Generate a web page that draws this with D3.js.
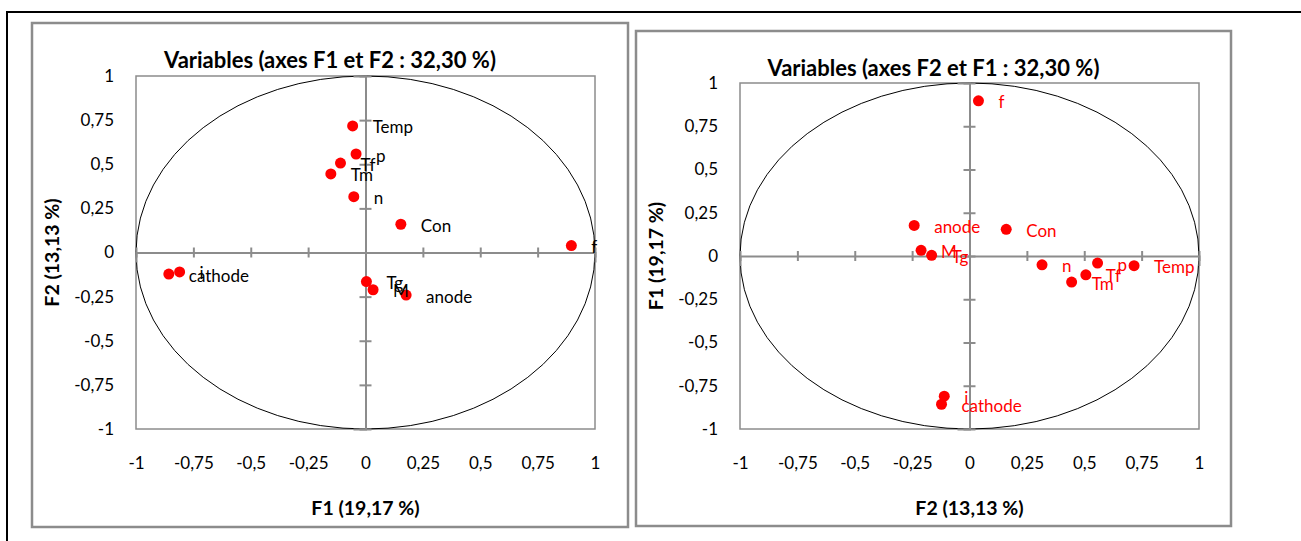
<!DOCTYPE html>
<html>
<head>
<meta charset="utf-8">
<script src="https://cdn.jsdelivr.net/npm/d3@7"></script>
<style>
  html, body { margin: 0; padding: 0; background: #fff; }
  svg { display: block; }
  text { font-family: Lato, "Open Sans", "DejaVu Sans", sans-serif; }
</style>
</head>
<body>
<svg id="chart" width="1301" height="541"></svg>
<script>
// ---- data ----
const variables = ["Temp", "p", "Tf", "Tm", "n", "Con", "f", "cathode", "i", "Tg", "M", "anode"];
const f1Values = [-0.056, -0.041, -0.109, -0.151, -0.051, 0.154, 0.897, -0.857, -0.810, 0.004, 0.033, 0.177];
const f2Values = [0.717, 0.558, 0.507, 0.445, 0.316, 0.160, 0.039, -0.122, -0.110, -0.165, -0.211, -0.241];
const tickValues = [-1, -0.75, -0.5, -0.25, 0, 0.25, 0.5, 0.75, 1];
const tickLabels = ["-1", "-0,75", "-0,5", "-0,25", "0", "0,25", "0,5", "0,75", "1"];
const titles = ["Variables (axes F1 et F2 : 32,30 %)", "Variables (axes F2 et F1 : 32,30 %)"];
const xTitles = ["F1 (19,17 %)", "F2 (13,13 %)"];
const yTitles = ["F2 (13,13 %)", "F1 (19,17 %)"];

const svg = d3.select("#chart");

// outer black frame (extends beyond visible area)
svg.append("rect")
  .attr("x", 7).attr("y", 12).attr("width", 1400).attr("height", 600)
  .attr("fill", "none").attr("stroke", "#000").attr("stroke-width", 2);

const fmt = d => tickLabels[tickValues.indexOf(d)] ?? d;

function panel(cfg) {
  const g = svg.append("g");
  // panel frame
  g.append("rect")
    .attr("x", cfg.frame[0]).attr("y", cfg.frame[1])
    .attr("width", cfg.frame[2] - cfg.frame[0]).attr("height", cfg.frame[3] - cfg.frame[1])
    .attr("fill", "#fff").attr("stroke", "#8c8c8c").attr("stroke-width", 2.5);

  const [L, T, R, B] = cfg.plot;
  const x = d3.scaleLinear().domain([-1, 1]).range([L, R]);
  const y = d3.scaleLinear().domain([-1, 1]).range([B, T]);

  // plot area border
  g.append("rect")
    .attr("x", L).attr("y", T).attr("width", R - L).attr("height", B - T)
    .attr("fill", "none").attr("stroke", "#8c8c8c").attr("stroke-width", 1.5);

  // correlation circle
  g.append("ellipse")
    .attr("cx", x(0)).attr("cy", y(0))
    .attr("rx", x(1) - x(0)).attr("ry", y(0) - y(1))
    .attr("fill", "none").attr("stroke", "#000").attr("stroke-width", 1);

  // central axes with crossing ticks
  const hx = g.append("g").attr("transform", `translate(0,${y(0)})`)
    .call(d3.axisBottom(x).tickValues(tickValues).tickSize(10).tickFormat(""));
  hx.selectAll(".tick line").attr("y1", -5).attr("y2", 5);
  const vy = g.append("g").attr("transform", `translate(${x(0)},0)`)
    .call(d3.axisLeft(y).tickValues(tickValues).tickSize(12).tickFormat(""));
  vy.selectAll(".tick line").attr("x1", -6).attr("x2", 6);
  [hx, vy].forEach(a => {
    a.selectAll("path.domain").attr("stroke", "#8c8c8c").attr("stroke-width", 2);
    a.selectAll(".tick line").attr("stroke", "#8c8c8c").attr("stroke-width", 2);
  });

  // tick labels
  const bx = g.append("g").attr("transform", `translate(0,${B + 26})`)
    .call(d3.axisBottom(x).tickValues(tickValues).tickSize(0).tickFormat(fmt));
  const ly = g.append("g").attr("transform", `translate(${L - 22},0)`)
    .call(d3.axisLeft(y).tickValues(tickValues).tickSize(0).tickFormat(fmt));
  [bx, ly].forEach(a => {
    a.select("path.domain").remove();
    a.selectAll("text").attr("font-size", 17).attr("fill", "#000")
      .style("font-family", "Lato, 'Open Sans', sans-serif");
  });
  bx.selectAll("text").attr("dy", "0.32em").attr("y", 9);
  ly.selectAll("text").attr("x", 0);

  // titles
  g.append("text")
    .attr("x", (cfg.frame[0] + cfg.frame[2]) / 2).attr("y", cfg.titleY)
    .attr("text-anchor", "middle").attr("dominant-baseline", "central")
    .attr("font-size", 22).attr("font-weight", "bold").text(cfg.title);
  g.append("text")
    .attr("x", x(0)).attr("y", 507)
    .attr("text-anchor", "middle").attr("dominant-baseline", "central")
    .attr("font-size", 19.5).attr("font-weight", "bold").text(cfg.xTitle);
  g.append("text")
    .attr("transform", `translate(${cfg.yTitleX},${y(0)}) rotate(-90)`)
    .attr("text-anchor", "middle").attr("dominant-baseline", "central")
    .attr("font-size", 19.5).attr("font-weight", "bold").text(cfg.yTitle);

  // points and labels
  const data = variables.map((v, i) => ({ name: v, xv: cfg.xs[i], yv: cfg.ys[i] }));
  g.selectAll("circle.pt").data(data).join("circle")
    .attr("class", "pt")
    .attr("cx", d => x(d.xv)).attr("cy", d => y(d.yv)).attr("r", 5.5)
    .attr("fill", "#ff0000");
  g.selectAll("text.lbl").data(data).join("text")
    .attr("class", "lbl")
    .attr("x", d => x(d.xv) + 20).attr("y", d => y(d.yv) + 1)
    .attr("dominant-baseline", "central")
    .attr("font-size", 17).attr("fill", cfg.labelColor)
    .text(d => d.name);
}

panel({
  frame: [32, 23, 628, 527], plot: [136, 76, 595, 429],
  xs: f1Values, ys: f2Values, title: titles[0], xTitle: xTitles[0], yTitle: yTitles[0],
  titleY: 59, yTitleX: 51, labelColor: "#000"
});
panel({
  frame: [636, 31, 1231, 526], plot: [740, 83, 1199, 429],
  xs: f2Values, ys: f1Values, title: titles[1], xTitle: xTitles[1], yTitle: yTitles[1],
  titleY: 67, yTitleX: 655, labelColor: "#ff0000"
});
</script>
</body>
</html>
